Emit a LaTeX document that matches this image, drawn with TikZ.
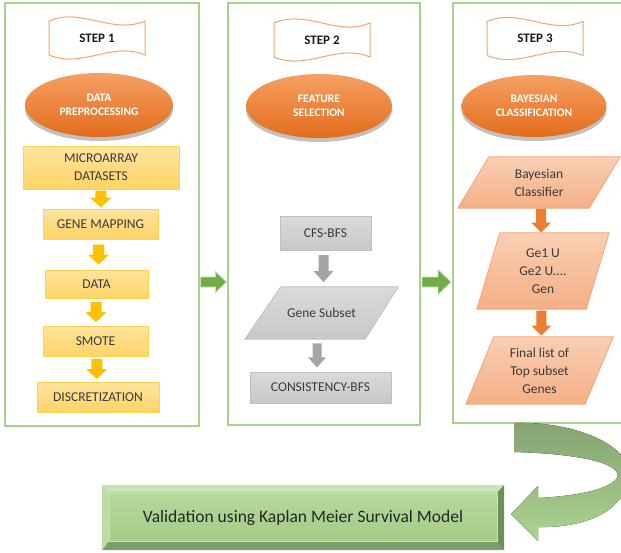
\documentclass[tikz,border=0pt]{standalone}
\usepackage{fontspec}
\setmainfont{Carlito}
\usetikzlibrary{shapes.geometric,calc,shadows,backgrounds}
\definecolor{panelg}{HTML}{A9D18E}
\definecolor{arrg}{HTML}{70AD47}
\definecolor{arrgl}{HTML}{C5E0B4}
\definecolor{ellT}{HTML}{F4A064}
\definecolor{ellB}{HTML}{E36C1B}
\definecolor{bannerline}{HTML}{F4A46E}
\definecolor{yelT}{HTML}{FFE4A0}
\definecolor{yelB}{HTML}{FFD465}
\definecolor{yelD}{HTML}{FFD24F}
\definecolor{yelA}{HTML}{FFC000}
\definecolor{grT}{HTML}{DADADA}
\definecolor{grB}{HTML}{C8C8C8}
\definecolor{grD}{HTML}{BFBFBF}
\definecolor{grA}{HTML}{A5A5A5}
\definecolor{slT}{HTML}{F9CFB4}
\definecolor{slB}{HTML}{F4AF85}
\definecolor{slD}{HTML}{F2A475}
\definecolor{orA}{HTML}{ED7D31}
\definecolor{txt}{HTML}{3A3A3A}
\definecolor{vTop}{HTML}{C9E4B8}
\definecolor{vLeft}{HTML}{BCDCA6}
\definecolor{vRight}{HTML}{6E8E5A}
\definecolor{vBot}{HTML}{7E9E69}
\definecolor{vFaceT}{HTML}{B5D89D}
\definecolor{vFaceB}{HTML}{A3CC88}
\definecolor{cvT}{HTML}{86A272}
\definecolor{cvB}{HTML}{ABD491}
\newcommand\drawparal[2]{%
  \begin{scope}[on background layer]
    \path[paral] (#1.south west) -- ($(#1.south east)+(-#2,0)$) -- (#1.north east) -- ($(#1.north west)+(#2,0)$) -- cycle;
  \end{scope}}
\begin{document}
\begin{tikzpicture}[x=1pt,y=-1pt,
  font=\fontsize{13.5}{18}\selectfont,
  panel/.style={draw=panelg, line width=1.5pt, inner sep=0pt},
  ybox/.style={draw=yelD, line width=0.8pt, top color=yelT, bottom color=yelB, text=txt, inner sep=0pt, align=center},
  gbox/.style={draw=grD, line width=0.8pt, top color=grT, bottom color=grB, text=txt, inner sep=0pt, align=center},
  ptext/.style={inner sep=0pt, text=txt, align=center},
  paral/.style={draw=slD, line width=0.8pt, top color=slT, bottom color=slB},
  gparal/.style={draw=grD, line width=0.8pt, top color=grT, bottom color=grB},
  ellip/.style={ellipse, top color=ellT, bottom color=ellB, text=white, inner sep=0pt, align=center,
    font=\bfseries\fontsize{11.5}{14.5}\selectfont,
    drop shadow={shadow xshift=0pt, shadow yshift=-4pt, opacity=0.35, fill=black!70}},
  % block arrow pointing down: length, head width, shaft width, head length
  pics/darrow/.style n args={4}{code={
    \path[pic actions] ({-#3/2},{-#1/2}) -- ({#3/2},{-#1/2}) -- ({#3/2},{#1/2-#4}) -- ({#2/2},{#1/2-#4})
      -- (0,{#1/2}) -- ({-#2/2},{#1/2-#4}) -- ({-#3/2},{#1/2-#4}) -- cycle;
    \coordinate (-c) at (0,0);
  }},
  % block arrow pointing right
  pics/rarrow/.style n args={4}{code={
    \path[pic actions] ({-#1/2},{-#3/2}) -- ({-#1/2},{#3/2}) -- ({#1/2-#4},{#3/2}) -- ({#1/2-#4},{#2/2})
      -- ({#1/2},0) -- ({#1/2-#4},{-#2/2}) -- ({#1/2-#4},{-#3/2}) -- cycle;
    \coordinate (-c) at (0,0);
  }},
  pics/banner/.style={code={
    \draw[bannerline, line width=1pt, fill=white]
      (-48,-17) .. controls (-15,-31) and (15,-3) .. (48,-17) -- (48,17)
      .. controls (15,3) and (-15,31) .. (-48,17) -- cycle;
    \node[font=\bfseries\fontsize{13}{15}\selectfont, text=black!90] (-t) {#1};
  }}
]
\useasboundingbox (0,0) rectangle (621,552);
\clip (0,0) rectangle (621,552);

% panels
\node[panel, minimum width=194pt, minimum height=423pt] (p1) at (102,214.5) {};
\node[panel, minimum width=192pt, minimum height=422pt] (p2) at (324,214) {};
\node[panel, minimum width=172pt, minimum height=420pt] (p3) at (539,213) {};

% banners
\pic (b1) at (97,38) {banner=STEP 1};
\pic (b2) at (322,40) {banner=STEP 2};
\pic (b3) at (535,38.5) {banner=STEP 3};

% ellipses
\node[ellip, minimum width=148pt, minimum height=64pt] (e1) at (99,105) {DATA\\PREPROCESSING};
\node[ellip, minimum width=146pt, minimum height=64pt] (e2) at (319,106) {FEATURE\\SELECTION};
\node[ellip, minimum width=145pt, minimum height=62pt] (e3) at (534,106) {BAYESIAN\\CLASSIFICATION};

% step 1
\node[ybox, minimum width=156pt, minimum height=43pt] (m1) at (101,167.5) {MICROARRAY\\DATASETS};
\node[ybox, minimum width=115pt, minimum height=30pt] (m2) at (100.5,224) {GENE MAPPING};
\node[ybox, minimum width=103pt, minimum height=28pt] (m3) at (96.5,284) {DATA};
\node[ybox, minimum width=105pt, minimum height=30pt] (m4) at (95.5,341) {SMOTE};
\node[ybox, minimum width=122pt, minimum height=30pt] (m5) at (98,397) {DISCRETIZATION};
\pic[fill=yelA] (ya1) at ($(m1.south)!0.5!(m2.north)$) {darrow={17}{22}{11}{10}};
\pic[fill=yelA] (ya2) at ($(m2.south)!0.5!(m3.north)$) {darrow={20}{21}{11}{10}};
\pic[fill=yelA] (ya3) at ($(m3.south)!0.5!(m4.north)$) {darrow={20}{21}{11}{10}};
\pic[fill=yelA] (ya4) at ($(m4.south)!0.5!(m5.north)$) {darrow={20}{21}{11}{10}};

% step 2
\node[gbox, minimum width=91pt, minimum height=34pt] (c1) at (325.5,233) {CFS-BFS};
\node[ptext, minimum width=153pt, minimum height=52pt] (gs) at (321.5,313) {Gene Subset};
\begin{scope}[on background layer]
  \path[gparal] (gs.south west) -- ($(gs.south east)+(-33,0)$) -- (gs.north east) -- ($(gs.north west)+(36,0)$) -- cycle;
\end{scope}
\node[gbox, minimum width=141pt, minimum height=31pt] (c2) at (320.5,387.5) {CONSISTENCY-BFS};
\pic[fill=grA] (ga1) at ($(c1.south)!0.5!(gs.north)$) {darrow={27}{20}{10}{11}};
\pic[fill=grA] (ga2) at ($(gs.south)!0.5!(c2.north)+(-4,0)$) {darrow={24}{18}{9}{10}};

% step 3
\node[ptext, minimum width=162pt, minimum height=51pt] (bc) at (539,182.5) {Bayesian\\Classifier};
\drawparal{bc}{31}
\node[ptext, minimum width=132pt, minimum height=76pt] (gu) at (543,271) {Ge1 U\\Ge2 U....\\Gen};
\drawparal{gu}{23}
\node[ptext, minimum width=147pt, minimum height=67pt] (fl) at (539.5,370.5) {Final list of\\Top subset\\Genes};
\drawparal{fl}{28}
\pic[fill=orA] (oa1) at ($(bc.south)!0.5!(gu.north)$) {darrow={24}{20}{10}{10}};
\pic[fill=orA] (oa2) at ($(gu.south)!0.5!(fl.north)$) {darrow={25}{20}{10}{10}};

% green arrows between panels
\path ($(p1.east)!0.5!(p2.west)$) coordinate (mA) ($(p2.east)!0.5!(p3.west)$) coordinate (mB);
\pic[fill=arrg, draw=arrgl, line width=0.8pt] (gr1) at (mA |- 0,282) {rarrow={26}{21}{10}{11}};
\pic[fill=arrg, draw=arrgl, line width=0.8pt] (gr2) at (mB |- 0,282) {rarrow={29}{25}{10}{13}};

% validation box
\node[font=\fontsize{17.5}{20}\selectfont, text=black!85, minimum width=402pt, minimum height=65pt, inner sep=0pt] (val) at (303,517.5) {Validation using Kaplan Meier Survival Model};
\begin{scope}[on background layer]
  \fill[vTop] (val.north west) -- (val.north east) -- ($(val.north east)+(-7,8)$) -- ($(val.north west)+(7,8)$) -- cycle;
  \fill[vBot] (val.south west) -- (val.south east) -- ($(val.south east)+(-7,-9)$) -- ($(val.south west)+(7,-9)$) -- cycle;
  \fill[vLeft] (val.north west) -- ($(val.north west)+(7,8)$) -- ($(val.south west)+(7,-9)$) -- (val.south west) -- cycle;
  \fill[vRight] (val.north east) -- ($(val.north east)+(-7,8)$) -- ($(val.south east)+(-7,-9)$) -- (val.south east) -- cycle;
  \path[top color=vFaceT, bottom color=vFaceB, draw=vTop, line width=0.5pt] ($(val.north west)+(7,8)$) rectangle ($(val.south east)+(-7,-9)$);
\end{scope}

% curved arrow from step 3 down to validation
\fill[top color=cvT, bottom color=cvB]
  (514,423) .. controls (585,421) and (640,452) .. (628,483)
  .. controls (620,512) and (585,528) .. (538,527)
  -- (538,541) -- (511,514) -- (538,486) -- (538,498)
  .. controls (578,496) and (610,489) .. (617,478)
  .. controls (623,466) and (590,454) .. (514,452) -- cycle;
\end{tikzpicture}
\end{document}
